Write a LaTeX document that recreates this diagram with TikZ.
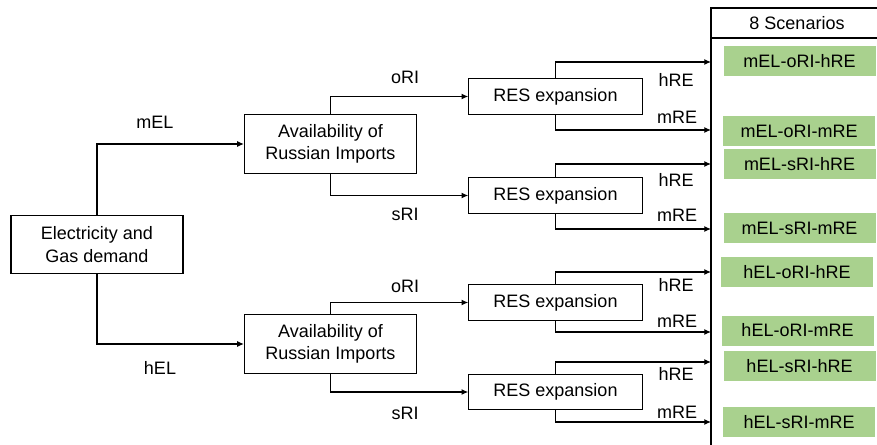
\documentclass[tikz,border=0pt]{standalone}
\usepackage{fontspec}
\setmainfont{Liberation Sans}
\usetikzlibrary{arrows.meta}
\begin{document}
\begin{tikzpicture}[x=0.75pt,y=-0.75pt,
  every node/.style={font=\fontsize{13.5}{17}\selectfont},
  box/.style={draw,line width=0.9pt,align=center,inner sep=0pt},
  dbox/.style={box,minimum width=129pt,minimum height=44pt},
  rbox/.style={box,minimum width=130pt,minimum height=26.5pt},
  gbox/.style={fill=scgreen,minimum width=114pt,minimum height=22.5pt,inner sep=0pt},
  lbl/.style={inner sep=0pt},
  conn/.style={line width=0.9pt},
  arr/.style={conn,-{Latex[length=5pt,width=4.5pt]}}]
\definecolor{scgreen}{HTML}{A9D18E}
\fill[white] (0,0) rectangle (877,445);
\useasboundingbox (0,0) rectangle (877,445);
\begin{scope}
\clip (0,0) rectangle (877,445);
% scenario frame
\draw[conn] (711,8) rectangle (900,470);
\draw[conn] (711,38) -- (900,38);
\node[lbl] (sh) at (797,23) {8 Scenarios};
\coordinate (s1) at (711,62);
\coordinate (s2) at (711,130);
\coordinate (s3) at (711,164);
\coordinate (s4) at (711,229);
\coordinate (s5) at (711,272);
\coordinate (s6) at (711,332);
\coordinate (s7) at (711,362);
\coordinate (s8) at (711,422);
\node[gbox] (g1) at (799.5,61) {mEL-oRI-hRE};
\node[gbox] (g2) at (799,131.5) {mEL-oRI-mRE};
\node[gbox] (g3) at (799.5,164) {mEL-sRI-hRE};
\node[gbox] (g4) at (799.5,228) {mEL-sRI-mRE};
\node[gbox] (g5) at (797,272) {hEL-oRI-hRE};
\node[gbox] (g6) at (797.5,330.5) {hEL-oRI-mRE};
\node[gbox] (g7) at (799.5,366) {hEL-sRI-hRE};
\node[gbox] (g8) at (799,422) {hEL-sRI-mRE};
\end{scope}
% main boxes
\node[dbox] (dem) at (97,244.5) {Electricity and\\Gas demand};
\node[dbox] (av1) at (330.5,144) {Availability of\\Russian Imports};
\node[dbox] (av2) at (330.5,344) {Availability of\\Russian Imports};
\node[rbox] (r1) at (555.5,96.5) {RES expansion};
\node[rbox] (r2) at (555.5,195.5) {RES expansion};
\node[rbox] (r3) at (555.5,302.5) {RES expansion};
\node[rbox] (r4) at (555.5,392) {RES expansion};
% connectors
\draw[arr] (dem.north) |- (av1.west);
\draw[arr] (dem.south) |- (av2.west);
\draw[arr] (av1.north) |- (r1.west);
\draw[arr] (av1.south) |- (r2.west);
\draw[arr] (av2.north) |- (r3.west);
\draw[arr] (av2.south) |- (r4.west);
\draw[arr] (r1.north) |- (s1);
\draw[arr] (r1.south) |- (s2);
\draw[arr] (r2.north) |- (s3);
\draw[arr] (r2.south) |- (s4);
\draw[arr] (r3.north) |- (s5);
\draw[arr] (r3.south) |- (s6);
\draw[arr] (r4.north) |- (s7);
\draw[arr] (r4.south) |- (s8);
% labels
\node[lbl] (lmel) at (155,122) {mEL};
\node[lbl] (lhel) at (160,368) {hEL};
\node[lbl] (lo1) at (405,77) {oRI};
\node[lbl] (ls1) at (405,214) {sRI};
\node[lbl] (lo2) at (405,286) {oRI};
\node[lbl] (ls2) at (405,413) {sRI};
\node[lbl] (h1) at (676,80) {hRE};
\node[lbl] (m1) at (677,117) {mRE};
\node[lbl] (h2) at (676,180) {hRE};
\node[lbl] (m2) at (677,215) {mRE};
\node[lbl] (h3) at (676,285) {hRE};
\node[lbl] (m3) at (677,321) {mRE};
\node[lbl] (h4) at (676,374) {hRE};
\node[lbl] (m4) at (677,412) {mRE};
\end{tikzpicture}
\end{document}
